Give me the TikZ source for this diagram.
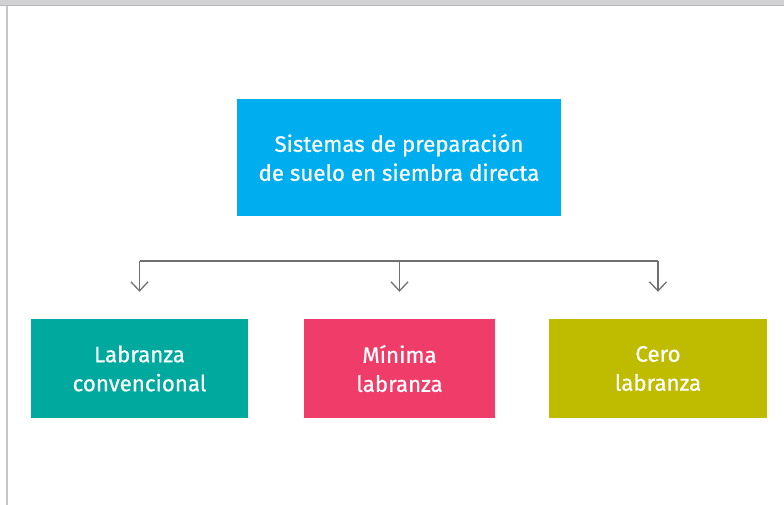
\documentclass[tikz,border=0pt]{standalone}
\usepackage{fontspec}
\setmainfont{Fira Sans}[BoldFont={Fira Sans}, BoldFeatures={FakeBold=0.5}]
\usepackage{xcolor}
\usetikzlibrary{arrows.meta, positioning, calc}
\definecolor{themecyan}{HTML}{00AEEF}
\definecolor{themeteal}{HTML}{00A99D}
\definecolor{themerose}{HTML}{F03C69}
\definecolor{themeolive}{HTML}{BFBC00}
\definecolor{themegray}{HTML}{707070}
\definecolor{framegray}{HTML}{D2D2D4}
\tikzset{
    catbox/.style={fill=#1, text=white, align=center, inner sep=0pt,
        font=\fontsize{22.3}{29}\selectfont\bfseries},
    branch/.style={themegray, line width=1.3pt},
}

\begin{document}
\begin{tikzpicture}[x=1pt, y=-1pt, >={Straight Barb[length=9pt, width=17pt]}]
    \useasboundingbox (0,0) rectangle (784,505);
    % window frame
    \fill[framegray] (0,0) rectangle (784,6);
    \fill[black!28] (0,4.8) rectangle (784,6);
    \fill[black!22] (5.5,6) rectangle (7.5,505);

    \node[catbox=themecyan, minimum width=324pt, minimum height=117pt] (root) at (399,157.5)
        {Sistemas de preparación\\de suelo en siembra directa};
    \node[catbox=themeteal, minimum width=217pt, minimum height=99pt] (conv) at (139.5,368.5)
        {Labranza\\convencional};
    \node[catbox=themerose, minimum width=191pt, minimum height=99pt] (minima) at (399.5,368.5)
        {Mínima\\labranza};
    \node[catbox=themeolive, minimum width=218pt, minimum height=99pt] (cero) at (658,368.5)
        {Cero\\labranza};

    \coordinate (bar) at (399,261);
    \draw[branch] (bar -| conv.north) -- (bar -| cero.north);
    \foreach \n in {conv, minima, cero}
        \draw[branch, ->, shorten >=27pt] (bar -| \n.north) -- (\n.north);
\end{tikzpicture}
\end{document}
